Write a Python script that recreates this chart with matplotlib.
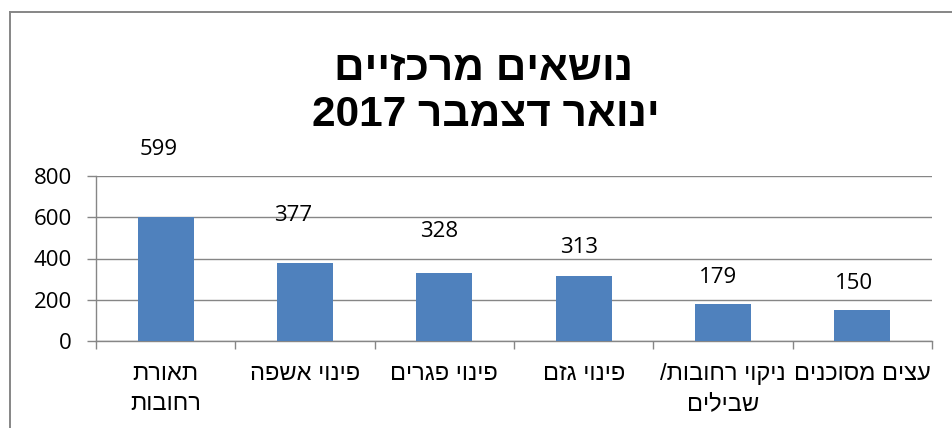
import re
import matplotlib
matplotlib.use("Agg")
import matplotlib.pyplot as plt
from matplotlib.lines import Line2D

# topics handled, Jan-Dec 2017
categories = ["תאורת\nרחובות", "פינוי אשפה", "פינוי פגרים", "פינוי גזם",
              "ניקוי רחובות/\nשבילים", "עצים מסוכנים"]
counts = [599, 377, 328, 313, 179, 150]
yticks = [0, 200, 400, 600, 800]
title_lines = ["נושאים מרכזיים", "ינואר דצמבר 2017"]

# where each value label sits relative to its bar top (points)
label_offsets = [(-5, 45), (-8.6, 30.5), (-3.6, 26.2), (-3.6, 17), (-3.2, 15.2), (-6, 15.2)]

BAR = "#4F81BD"
GRID = "#868686"
HEB = ["Liberation Sans", "DejaVu Sans"]
NUM = ["Open Sans", "DejaVu Sans"]


def rtl(s):
    """matplotlib has no bidi support: flip each line to visual order, keep digit runs LTR."""
    out = []
    for line in s.split("\n"):
        r = line[::-1]
        r = re.sub(r"\d+", lambda m: m.group(0)[::-1], r)
        out.append(r)
    return "\n".join(out)


W, H = 952, 428
fig = plt.figure(figsize=(W / 100, H / 100), dpi=100)
fig.patch.set_facecolor("white")

x0, x1, ytop, ybot = 96, 932, 176, 341
ax = fig.add_axes([x0 / W, 1 - ybot / H, (x1 - x0) / W, (ybot - ytop) / H])

xs = list(range(len(counts)))
ax.bar(xs, counts, width=0.4, color=BAR, zorder=3)
ax.set_xlim(-0.5, len(counts) - 0.5)
ax.set_ylim(0, 800)

for i, v in enumerate(counts):
    dx, dy = label_offsets[i]
    ax.annotate(str(v), (i, v), xytext=(dx, dy), textcoords="offset points",
                ha="center", va="baseline", fontsize=16, family=NUM, zorder=4)

ax.set_yticks(yticks)
ax.set_yticklabels([str(t) for t in yticks], family=NUM, fontsize=16)
ax.yaxis.grid(True, color=GRID, lw=1.0, zorder=0)
ax.tick_params(axis="y", length=6.5, width=1.0, color=GRID, pad=11)

ax.set_xticks(xs)
ax.set_xticklabels([rtl(c) for c in categories], family=HEB, fontsize=17,
                   linespacing=1.45, va="top")
ax.set_xticks([i - 0.5 for i in range(len(counts) + 1)], minor=True)
ax.tick_params(axis="x", which="major", length=0, pad=16)
ax.tick_params(axis="x", which="minor", length=6, width=1.0, color=GRID)

for s in ("top", "right"):
    ax.spines[s].set_visible(False)
for s in ("left", "bottom"):
    ax.spines[s].set_color(GRID)
    ax.spines[s].set_linewidth(1.0)

# two-line bold title
fig.text(484 / W, 1 - 80 / H, rtl(title_lines[0]), ha="center", va="baseline",
         fontsize=30.5, fontweight="bold", family=HEB)
fig.text(486 / W, 1 - 126 / H, rtl(title_lines[1]), ha="center", va="baseline",
         fontsize=30.5, fontweight="bold", family=HEB)

# chart-area border (only left and top edges fall inside the canvas)
fig.add_artist(Line2D([9.5 / W, 9.5 / W], [0, 1 - 12 / H], color=GRID, lw=1.4,
                      transform=fig.transFigure))
fig.add_artist(Line2D([9.5 / W, 1], [1 - 12 / H, 1 - 12 / H], color=GRID, lw=1.4,
                      transform=fig.transFigure))

fig.savefig("out.png", dpi=100, facecolor="white")
